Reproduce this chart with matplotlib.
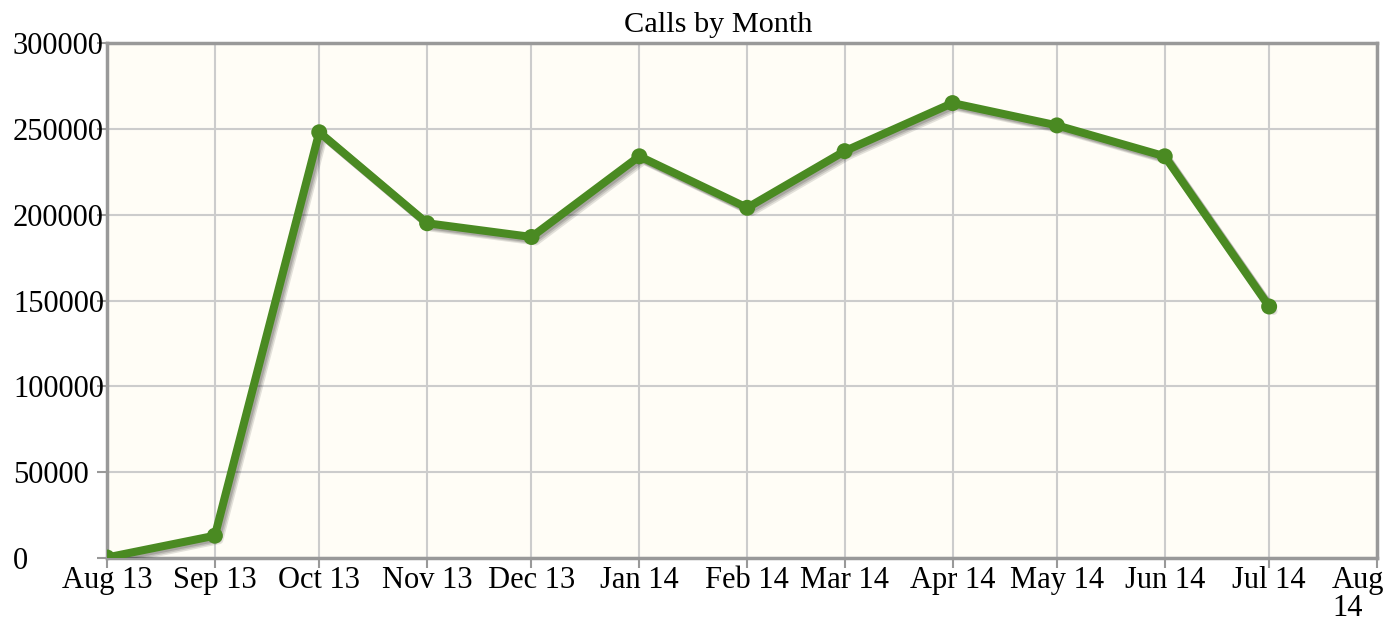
import matplotlib
matplotlib.use("Agg")
import matplotlib.pyplot as plt
import matplotlib.patheffects as pe
import matplotlib.transforms as mtrans
import datetime as dt

months = ["2013-08", "2013-09", "2013-10", "2013-11", "2013-12", "2014-01",
          "2014-02", "2014-03", "2014-04", "2014-05", "2014-06", "2014-07"]
calls = [300, 13000, 248000, 195000, 187000, 234000,
         204000, 237000, 265000, 252000, 234000, 146500]
tick_months = ["2013-08", "2013-09", "2013-10", "2013-11", "2013-12", "2014-01",
               "2014-02", "2014-03", "2014-04", "2014-05", "2014-06", "2014-07", "2014-08"]
tick_labels = ["Aug 13", "Sep 13", "Oct 13", "Nov 13", "Dec 13", "Jan 14",
               "Feb 14", "Mar 14", "Apr 14", "May 14", "Jun 14", "Jul 14", "Aug\n14"]
y_ticks = [0, 50000, 100000, 150000, 200000, 250000, 300000]
y_labels = [str(v) for v in y_ticks]

def to_date(s):
    y, m = s.split("-")
    return dt.date(int(y), int(m), 1)

x = [to_date(m) for m in months]
xt = [to_date(m) for m in tick_months]

plt.rcParams['font.family'] = ['Liberation Serif', 'DejaVu Serif']

fig = plt.figure(figsize=(13.89, 6.24), dpi=100)
ax = fig.add_axes([107/1389, 1-558/624, (1377-107)/1389, (558-43)/624])
ax.set_facecolor('#fffdf6')

green = '#4a8a22'
shadow = [pe.SimpleLineShadow(offset=(3.2, -3.2), shadow_color='#000000', alpha=0.11),
          pe.SimpleLineShadow(offset=(2.3, -2.3), shadow_color='#000000', alpha=0.13),
          pe.SimpleLineShadow(offset=(1.4, -1.4), shadow_color='#000000', alpha=0.15),
          pe.Normal()]
ax.plot(x, calls, color=green, linewidth=5.8, marker='o', markersize=11.5,
        markeredgewidth=0, solid_joinstyle='round', solid_capstyle='round',
        zorder=3, path_effects=shadow)

ax.set_xlim(xt[0], xt[-1])
ax.set_ylim(0, 300000)
ax.set_xticks(xt)
ax.set_xticklabels(tick_labels, fontsize=22, linespacing=0.95)
ax.set_yticks(y_ticks)
ax.set_yticklabels(y_labels, fontsize=22, ha='left')
ax.grid(True, color='#cccccc', linewidth=1.5, zorder=0)
ax.set_axisbelow(True)
for s in ax.spines.values():
    s.set_color('#999999')
    s.set_linewidth(2.5)
ax.tick_params(axis='both', color='#999999', length=7.2, width=1.5)
ax.tick_params(axis='y', pad=60.5)
ax.tick_params(axis='x', pad=-1.5)

# keep the last wrapped label inside the figure
last = ax.get_xticklabels()[-1]
last.set_horizontalalignment('left')
last.set_transform(last.get_transform() +
                   mtrans.ScaledTranslation(-0.45, 0, fig.dpi_scale_trans))

fig.text(718/1389, 1-25/624, "Calls by Month", ha='center', va='center', fontsize=21.8)

fig.savefig("out.png", dpi=100, facecolor='white')
